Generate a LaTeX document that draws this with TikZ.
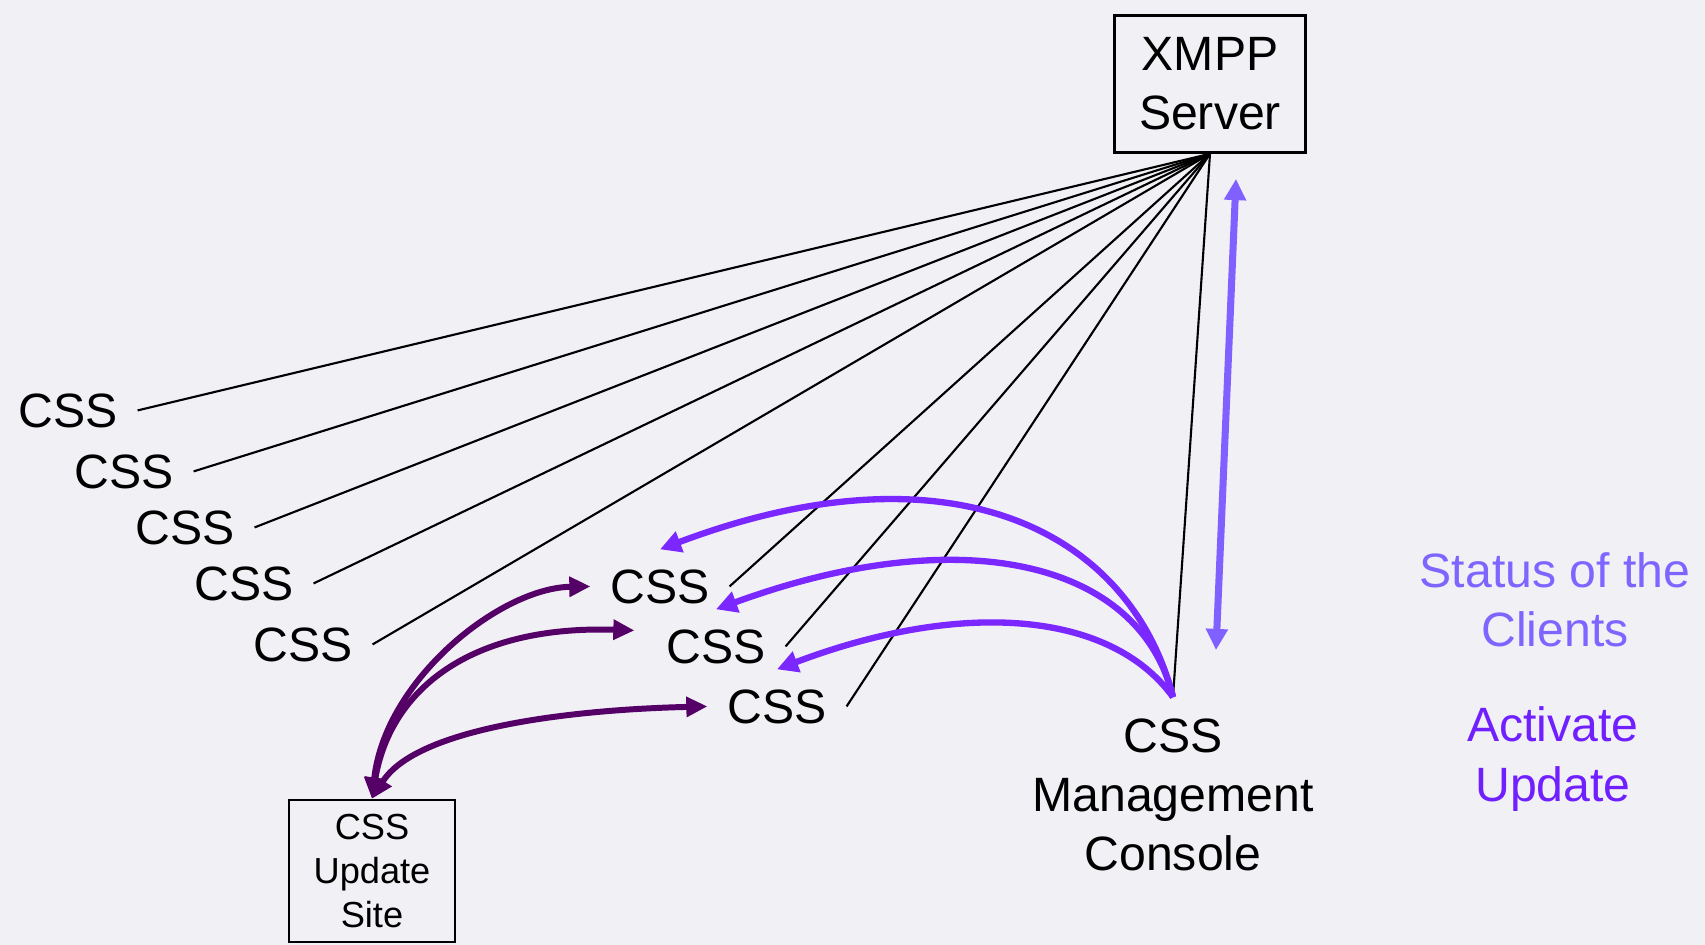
\documentclass[tikz,border=0pt]{standalone}
\usepackage{fontspec}
\setmainfont{Liberation Sans}
\usetikzlibrary{arrows.meta}

\definecolor{slidebg}{RGB}{240,240,245}
\definecolor{askpurple}{RGB}{122,40,255}
\definecolor{pushpurple}{RGB}{85,0,102}
\definecolor{linkpurple}{RGB}{128,96,255}
\definecolor{statustext}{RGB}{127,101,255}
\definecolor{activatetext}{RGB}{112,32,255}

\begin{document}
\begin{tikzpicture}[x=0.01cm, y=-0.01cm,
    bigfont/.style={font=\fontsize{13.7}{16.8}\selectfont},
    client/.style={bigfont, anchor=base, inner sep=5.5pt},
    box/.style={draw, line width=0.7pt, align=center, inner sep=0pt},
    link/.style={line width=0.6pt},
    statusarc/.style={askpurple, line width=1.8pt, -{Triangle[length=6pt,width=6pt]}},
    updatearc/.style={pushpurple, line width=1.7pt, {Triangle[length=6pt,width=5.5pt]}-{Triangle[length=6pt,width=5.5pt]}},
    serverlink/.style={linkpurple, line width=2pt, {Triangle[length=6pt,width=6pt]}-{Triangle[length=6pt,width=6pt]}}]
   \fill[slidebg] (0,0) rectangle (1705,945);
   \useasboundingbox (0,0) rectangle (1705,945);

   % Server and console
   \node[box, bigfont, minimum width=1.91cm, minimum height=1.37cm] (xmpp) at (1210,84) {XMPP\\Server};
   \node[bigfont, align=center, inner sep=6pt] (mgmt) at (1173,795) {CSS\\Management\\Console};
   \node[box, font=\fontsize{10.3}{12.5}\selectfont, minimum width=1.66cm, minimum height=1.42cm] (update) at (372,871) {CSS\\Update\\Site};

   % Clients
   \node[client] (css1) at (68,427) {CSS};
   \node[client] (css2) at (124,488) {CSS};
   \node[client] (css3) at (185,544) {CSS};
   \node[client] (css4) at (244,600) {CSS};
   \node[client] (css5) at (303,661) {CSS};
   \node[client] (css6) at (660,603) {CSS};
   \node[client] (css7) at (716,663) {CSS};
   \node[client] (css8) at (777,723) {CSS};

   % Legend
   \node[bigfont, align=center, text=statustext] (status) at (1555,600) {Status of the\\Clients};
   \node[bigfont, align=center, text=activatetext] (activate) at (1553,759) {Activate\\Update};

   \path[link]
        % From the server
        (xmpp.south) edge (css1.east)
                     edge (css2.east)
                     edge (css3.east)
                     edge (css4.east)
                     edge (css5.east)
                     edge (css6.east)
                     edge (css7.east)
                     edge (css8.east)
                     edge (mgmt.north);

   % Console to server
   \coordinate (linktop) at (1236,179);
   \coordinate (linkbottom) at (1216,650);
   \draw[serverlink] (linkbottom) -- (linktop);

   % Console to clients
   \draw[statusarc] (mgmt.north) .. controls (1130,530) and (950,440) .. (css6.north);
   \draw[statusarc] (mgmt.north) .. controls (1140,560) and (960,520) .. (css7.north);
   \draw[statusarc] (mgmt.north) .. controls (1110,610) and (960,600) .. (css8.north);

   % Update site to clients
   \draw[updatearc] (update.north) .. controls (385,680) and (500,588) .. (css6.west);
   \draw[updatearc] (update.north) .. controls (390,690) and (470,625) .. ([shift={(-12,-16)}]css7.west);
   \draw[updatearc] (update.north) .. controls (415,730) and (560,710) .. (css8.west);
\end{tikzpicture}
\end{document}
